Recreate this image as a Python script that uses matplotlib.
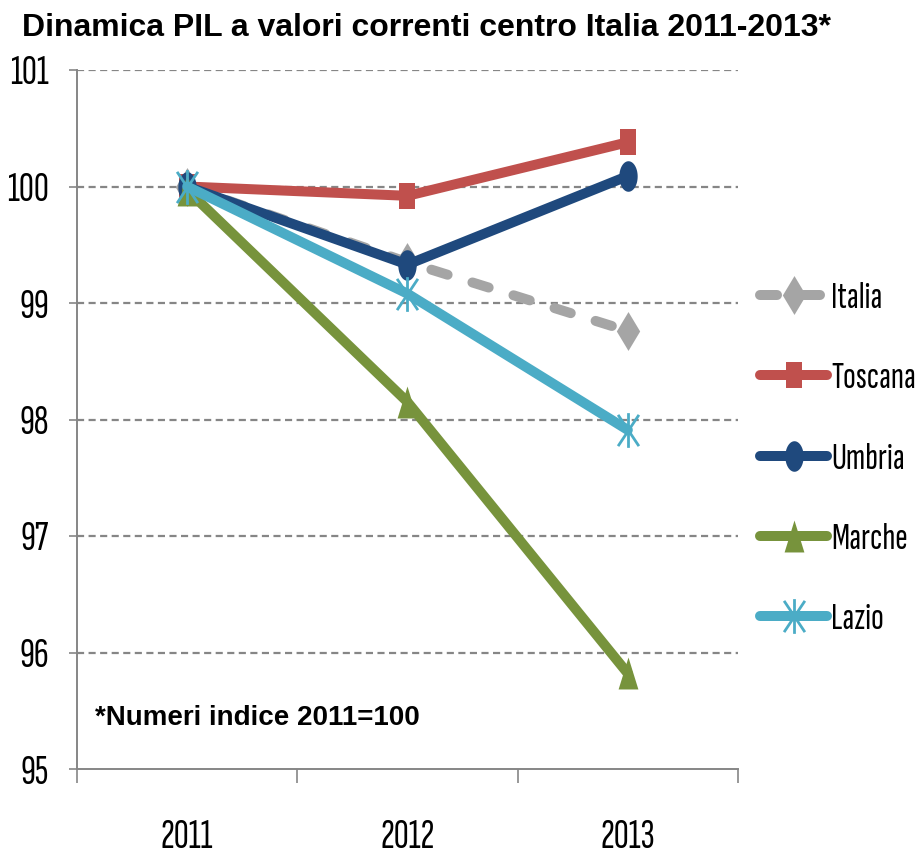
import numpy as np
import matplotlib.pyplot as plt
from matplotlib.path import Path

years = ["2011", "2012", "2013"]
italia = [100.0, 99.35, 98.76]
toscana = [100.0, 99.92, 100.38]
umbria = [100.0, 99.33, 100.09]
marche = [99.97, 98.15, 95.82]
lazio = [100.0, 99.08, 97.91]

narrow = ["Sofia Sans Extra Condensed", "Fira Sans Extra Condensed", "DejaVu Sans"]

# tall, narrow marker shapes
sq = 0.32
m_square = Path([(-sq, -0.5), (sq, -0.5), (sq, 0.5), (-sq, 0.5), (-sq, -0.5)],
                [Path.MOVETO, Path.LINETO, Path.LINETO, Path.LINETO, Path.CLOSEPOLY])
t = np.linspace(0, 2 * np.pi, 60)
m_oval = Path(np.column_stack([0.3 * np.cos(t), 0.5 * np.sin(t)]))
m_diamond = Path([(0, 0.5), (0.3, 0), (0, -0.5), (-0.3, 0), (0, 0.5)],
                 [Path.MOVETO, Path.LINETO, Path.LINETO, Path.LINETO, Path.CLOSEPOLY])
m_tri = Path([(0, 0.5), (0.31, -0.5), (-0.31, -0.5), (0, 0.5)],
             [Path.MOVETO, Path.LINETO, Path.LINETO, Path.CLOSEPOLY])
m_star = Path([(0, -0.5), (0, 0.5), (-0.3, -0.45), (0.3, 0.45), (-0.3, 0.45), (0.3, -0.45)],
              [Path.MOVETO, Path.LINETO, Path.MOVETO, Path.LINETO, Path.MOVETO, Path.LINETO])

fig = plt.figure(figsize=(9.2, 8.59), dpi=100)
ax = fig.add_axes([77 / 920, 90 / 859, (738 - 77) / 920, (769 - 70) / 859])

x = np.arange(len(years))
lw = 7.2

ax.plot(x, italia, color="#A5A5A5", lw=lw, linestyle=(0, (1.7, 2.6)), dash_capstyle="round",
        marker=m_diamond, markersize=28, mew=0, label="Italia", zorder=3)
ax.plot(x, toscana, color="#C0504D", lw=lw, marker=m_square, markersize=19, mew=0,
        solid_capstyle="round", label="Toscana", zorder=4)
ax.plot(x, umbria, color="#1F497D", lw=lw, marker=m_oval, markersize=22, mew=0,
        solid_capstyle="round", label="Umbria", zorder=5)
ax.plot(x, marche, color="#77933C", lw=lw, marker=m_tri, markersize=23, mew=0,
        solid_capstyle="round", label="Marche", zorder=6)
ax.plot(x, lazio, color="#4BACC6", lw=lw, marker=m_star, markersize=25, mew=2,
        markerfacecolor="none", solid_capstyle="round", label="Lazio", zorder=7)

ax.set_xlim(-0.5, 2.5)
ax.set_ylim(95, 101)
ax.set_yticks(range(95, 102))
for v in range(96, 102):
    ax.axhline(v, color="#868686", lw=1.6, linestyle=(0, (3.2, 2.0)), zorder=1)

ax.set_xticks(x)
ax.set_xticklabels(years)
ax.set_xticks([-0.5, 0.5, 1.5, 2.5], minor=True)
ax.tick_params(axis="x", which="major", length=0, pad=36)
ax.tick_params(axis="x", which="minor", length=10, width=1.2, color="#868686")
ax.tick_params(axis="y", length=6, width=1.2, color="#868686", pad=14)
for lab in ax.get_xticklabels() + ax.get_yticklabels():
    lab.set_fontfamily(narrow)
    lab.set_fontsize(30)

for s in ["top", "right"]:
    ax.spines[s].set_visible(False)
for s in ["left", "bottom"]:
    ax.spines[s].set_color("#868686")
    ax.spines[s].set_linewidth(1.4)

fig.text(22 / 920, 1 - 28 / 859, "Dinamica PIL a valori correnti centro Italia 2011-2013*",
         fontfamily="Liberation Sans", fontweight="bold", fontsize=23, va="center", ha="left")
ax.text(95 / 920, 1 - 718 / 859, "*Numeri indice 2011=100", transform=fig.transFigure,
        fontfamily="Liberation Sans", fontweight="bold", fontsize=20, va="center", ha="left")

leg = fig.legend(loc="center left", bbox_to_anchor=(760 / 920, 1 - 459 / 859), frameon=False,
                 handlelength=1.8, handletextpad=0.1, labelspacing=1.25, borderpad=0,
                 prop={"family": narrow, "size": 27}, borderaxespad=0)

fig.savefig("out.png", dpi=100)
